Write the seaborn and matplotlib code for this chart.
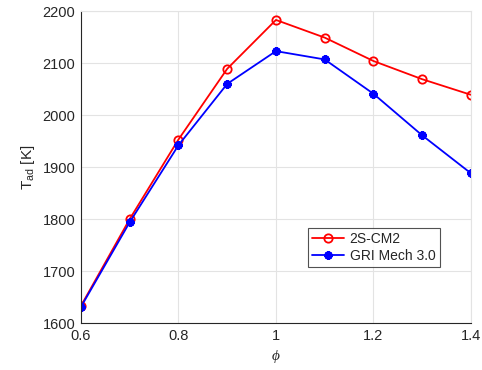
import matplotlib
matplotlib.use("Agg")
import matplotlib.pyplot as plt
import seaborn as sns
import pandas as pd

phi = [0.6, 0.7, 0.8, 0.9, 1.0, 1.1, 1.2, 1.3, 1.4]
t_2scm2 = [1633, 1800, 1953, 2089, 2183, 2149, 2104, 2069, 2039]
t_gri = [1631, 1794, 1942, 2060, 2123, 2107, 2041, 1961, 1888]
labels = ["2S-CM2", "GRI Mech 3.0"]
xticks = [0.6, 0.8, 1.0, 1.2, 1.4]
xticklabels = ["0.6", "0.8", "1", "1.2", "1.4"]
yticks = [1600, 1700, 1800, 1900, 2000, 2100, 2200]

sns.set_style("white")
plt.rcParams['font.family'] = ['Liberation Sans', 'DejaVu Sans']
plt.rcParams['mathtext.fontset'] = 'custom'
plt.rcParams['mathtext.rm'] = 'Liberation Sans'
plt.rcParams['mathtext.it'] = 'Liberation Serif:italic'

df = pd.DataFrame({
    "phi": phi * 2,
    "T": t_2scm2 + t_gri,
    "mech": [labels[0]] * len(phi) + [labels[1]] * len(phi),
})

fig = plt.figure(figsize=(4.82, 3.70), dpi=100)
ax = fig.add_axes([0.168, 0.127, 0.809, 0.843])

sns.lineplot(data=df[df.mech == labels[0]], x="phi", y="T", ax=ax, color="#ff0000",
             marker="o", markersize=6, markerfacecolor="none", markeredgecolor="#ff0000",
             markeredgewidth=1.3, linewidth=1.3, label=labels[0])
sns.lineplot(data=df[df.mech == labels[1]], x="phi", y="T", ax=ax, color="#0000ff",
             marker=(8, 2, 0), markersize=6, markeredgecolor="#0000ff",
             markeredgewidth=1.8, linewidth=1.3, label=labels[1])

ax.set_xlim(0.6, 1.4)
ax.set_ylim(1600, 2200)
ax.set_xticks(xticks)
ax.set_xticklabels(xticklabels)
ax.set_yticks(yticks)
ax.grid(True, color="#e3e3e3", linewidth=0.8)
ax.set_axisbelow(True)
for s in ["top", "right"]:
    ax.spines[s].set_color("#e3e3e3")
for s in ["left", "bottom"]:
    ax.spines[s].set_color("#262626")
    ax.spines[s].set_linewidth(0.8)
ax.tick_params(axis="both", direction="in", length=4, color="#262626",
               labelsize=10.5, labelcolor="#262626", pad=4)
ax.set_xlabel(r"$\phi$", fontsize=11, color="#262626")
ax.set_ylabel(r"$\mathrm{T_{ad}}$ [K]", fontsize=11, color="#262626")

leg = ax.legend(loc="upper left", bbox_to_anchor=(0.582, 0.305), fontsize=10,
                frameon=True, fancybox=False, edgecolor="#262626",
                handlelength=2.3, borderpad=0.3, labelspacing=0.2, handletextpad=0.4,
                borderaxespad=0)
leg.get_frame().set_linewidth(0.8)

fig.savefig("out.png", dpi=100)
